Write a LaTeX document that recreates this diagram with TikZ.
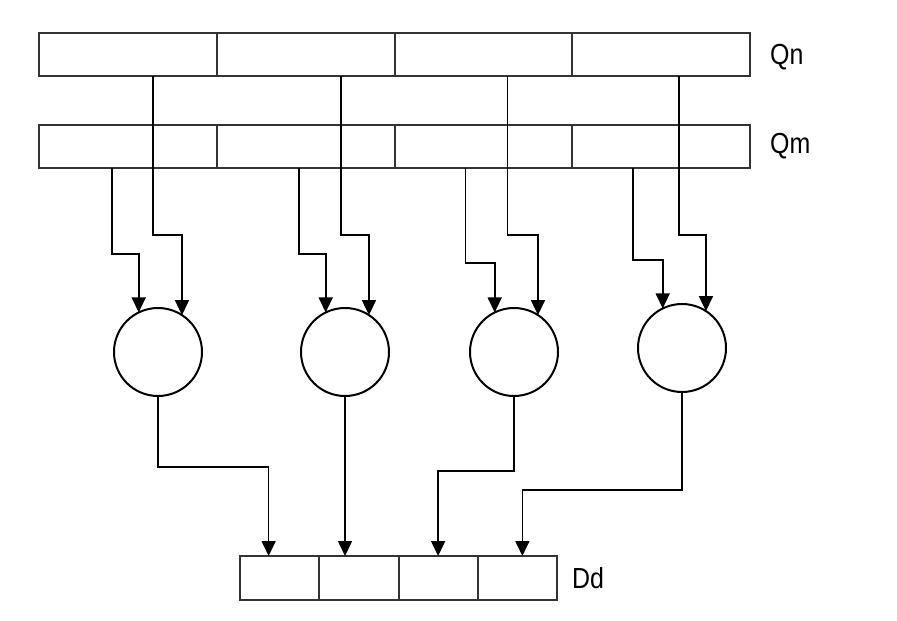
\documentclass[tikz,border=0pt]{standalone}
\usepackage{fontspec}
\newfontfamily\lblfont[FakeStretch=0.86]{Liberation Sans}
\usetikzlibrary{arrows.meta,positioning,calc}
\tikzset{
  qcell/.style={draw=black!80,line width=2pt,minimum width=177.75pt,
                minimum height=43pt,inner sep=0,outer sep=0},
  dcell/.style={qcell,minimum width=79.25pt,minimum height=44pt},
  opnode/.style={circle,draw=black,line width=2pt,minimum size=88pt,
                 inner sep=0,outer sep=0},
  arr/.style={-{Triangle[length=15pt,width=14pt]},line width=1.6pt,black},
  reglbl/.style={font=\lblfont\fontsize{29}{29}\selectfont,inner sep=0,anchor=west}
}

\begin{document}
\begin{tikzpicture}[x=1pt,y=-1pt]
  \useasboundingbox (0,0) rectangle (897,621);
  % registers
  \foreach \i in {1,...,4} {
    \node[qcell] (qn\i) at ({39+177.75*(\i-0.5)},54.5) {};
    \node[qcell] (qm\i) at ({39+177.75*(\i-0.5)},146.5) {};
    \node[dcell] (dd\i) at ({240+79.25*(\i-0.5)},578) {};
  }
  \node[reglbl] (qnlbl) at ($(qn4.east)+(20,3)$) {Qn};
  \node[reglbl] (qmlbl) at ($(qm4.east)+(20,0)$) {Qm};
  \node[reglbl] (ddlbl) at ($(dd4.east)+(15,0)$) {Dd};
  % lane operations
  \node[opnode] (op1) at (158,352) {};
  \node[opnode] (op2) at (345,352) {};
  \node[opnode] (op3) at (514,352) {};
  \node[opnode] (op4) at (682,348) {};
  % inputs
  \coordinate (nstep) at (0,235);
  \foreach \i/\dm/\dn/\ym in {1/73/114/254, 2/82/124/254, 3/71/113/263, 4/61/107/260} {
    \coordinate (mstep\i) at (0,\ym);
    \draw[arr] ($(qm\i.south west)+(\dm,0)$) |- (op\i.116 |- mstep\i) -- (op\i.116);
    \draw[arr] ($(qn\i.south west)+(\dn,0)$) |- (op\i.57 |- nstep) -- (op\i.57);
  }
  % results
  \coordinate (in1) at ($(dd1.north)+(-11,0)$);
  \coordinate (in2) at (op2.south |- dd2.north);
  \coordinate (in3) at (dd3.north);
  \coordinate (in4) at ($(dd4.north)+(5,0)$);
  \coordinate (dstep1) at (0,467);
  \coordinate (dstep3) at (0,471);
  \coordinate (dstep4) at (0,490);
  \draw[arr] (op1.south) -- (op1.south |- dstep1) -| (in1);
  \draw[arr] (op2.south) -- (in2);
  \draw[arr] (op3.south) -- (op3.south |- dstep3) -| (in3);
  \draw[arr] (op4.south) -- (op4.south |- dstep4) -| (in4);
\end{tikzpicture}
\end{document}
